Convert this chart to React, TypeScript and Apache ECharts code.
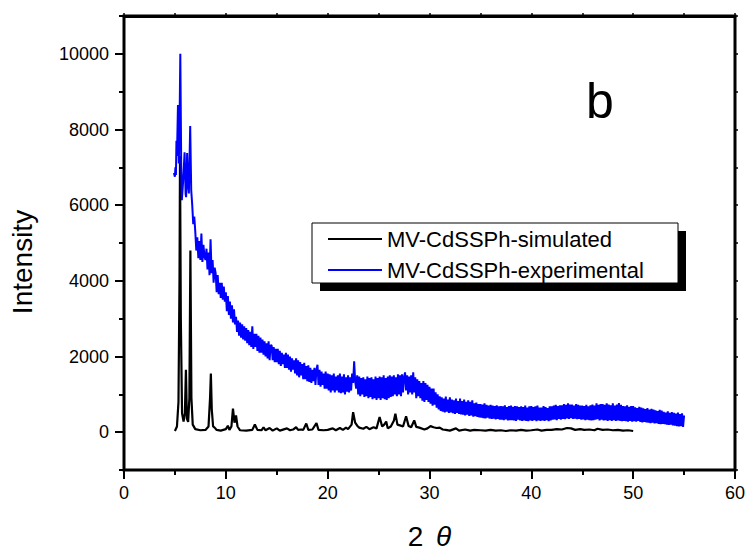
import React, { useEffect, useRef } from "react";
import * as echarts from "echarts";

// ---------- data ----------
const simName = "MV-CdSSPh-simulated";
const expName = "MV-CdSSPh-experimental";

const xTicks = [0, 10, 20, 30, 40, 50, 60];
const yMajorTicks = [0, 2000, 4000, 6000, 8000, 10000];

// simulated pattern, [2θ, intensity]
const simulated: [number, number][] = [
  [5.0, 30], [5.2, 150], [5.35, 800], [5.45, 4000], [5.5, 7300], [5.58, 3000], [5.7, 500],
  [5.85, 280], [5.98, 500], [6.08, 1650], [6.18, 350], [6.3, 270], [6.42, 900], [6.52, 4800],
  [6.62, 900], [6.75, 200], [7.0, 80], [7.5, 50], [8.0, 60], [8.3, 150], [8.45, 900],
  [8.53, 1550], [8.62, 600], [8.75, 150], [8.9, 120], [9.1, 60], [9.5, 40], [10.0, 80],
  [10.2, 170], [10.35, 60], [10.55, 150], [10.7, 620], [10.85, 250], [11.0, 440], [11.15, 150],
  [11.4, 50], [12.0, 40], [12.6, 60], [12.85, 200], [13.1, 60], [13.5, 50], [13.7, 130],
  [13.9, 50], [14.3, 110], [14.6, 40], [15.0, 100], [15.3, 40], [16.0, 100], [16.3, 50],
  [16.6, 70], [16.9, 130], [17.1, 60], [17.4, 70], [17.6, 60], [17.9, 230], [18.1, 60],
  [18.5, 70], [18.9, 240], [19.1, 60], [19.6, 50], [20.0, 60], [20.5, 100], [20.8, 50],
  [21.2, 110], [21.5, 60], [21.8, 120], [22.0, 80], [22.35, 200], [22.5, 530], [22.7, 250],
  [22.9, 170], [23.1, 120], [23.5, 90], [23.8, 140], [24.1, 80], [24.5, 130], [24.8, 100],
  [25.1, 400], [25.35, 150], [25.55, 200], [25.75, 280], [25.9, 100], [26.2, 150], [26.5, 300],
  [26.65, 490], [26.85, 200], [27.1, 180], [27.4, 150], [27.7, 420], [27.95, 160], [28.2, 130],
  [28.5, 310], [28.7, 140], [29.0, 120], [29.5, 70], [29.8, 100], [30.1, 160], [30.4, 130],
  [30.7, 110], [31.0, 120], [31.3, 70], [31.6, 60], [32.0, 40], [32.6, 100], [32.9, 40],
  [33.5, 70], [34.0, 40], [34.4, 60], [35.0, 50], [35.5, 40], [36.0, 60], [36.5, 40],
  [37.0, 50], [37.5, 30], [38.0, 50], [38.5, 40], [39.0, 60], [39.5, 40], [40.0, 50],
  [40.6, 70], [41.0, 40], [41.5, 60], [42.0, 60], [42.5, 80], [43.0, 70], [43.5, 110],
  [43.9, 100], [44.3, 60], [44.8, 80], [45.2, 60], [45.7, 70], [46.2, 50], [46.5, 90],
  [47.0, 60], [47.5, 70], [48.0, 50], [48.5, 60], [49.0, 40], [49.5, 50], [50.0, 30],
];

// experimental pattern, low-angle part, [2θ, intensity]
const experimentalStart: [number, number][] = [
  [4.9, 6850], [5.0, 6750], [5.05, 7000], [5.1, 6800], [5.15, 7700], [5.2, 7300], [5.3, 8650],
  [5.38, 7100], [5.45, 8000], [5.53, 10000], [5.62, 7000], [5.68, 6130], [5.8, 6600],
  [5.95, 7400], [6.05, 6300], [6.1, 6210], [6.2, 7380], [6.3, 6500], [6.37, 6310], [6.5, 8090],
  [6.6, 6400], [6.7, 6000], [6.8, 5500], [6.9, 5700],
];

// experimental pattern from 7.0° in 0.1° steps (one row per degree)
const expStepStart = 7.0;
const expStep = 0.1;
const experimentalValues: number[] = [
  5300, 4800, 5150, 4600, 5050, 4550, 5250, 4500, 4950, 4650, // 7
  4550, 4850, 4300, 4750, 4150, 5100, 4200, 4550, 3950, 4350, // 8
  4200, 3700, 4150, 3650, 3950, 3550, 3950, 3500, 3850, 3450, // 9
  3700, 3200, 3600, 3100, 3450, 3000, 3350, 2900, 3250, 2850, // 10
  3050, 2650, 2950, 2550, 2900, 2500, 2850, 2450, 2800, 2420, // 11
  2750, 2350, 2700, 2300, 2650, 2250, 2800, 2200, 2600, 2250, // 12
  2600, 2150, 2550, 2100, 2500, 2100, 2450, 2050, 2400, 2000, // 13
  2350, 1950, 2400, 1900, 2300, 2290, 1900, 2250, 1850, 2200, // 14
  1850, 2200, 1800, 2150, 1750, 2100, 1800, 2050, 1700, 2100, // 15
  1700, 2050, 1650, 2000, 1600, 1950, 1650, 1900, 1550, 1950, // 16
  1500, 1900, 1450, 1850, 1500, 1800, 1400, 1830, 1400, 1750, // 17
  1350, 1770, 1330, 1700, 1300, 1650, 1350, 1700, 1250, 1650, // 18
  1780, 1250, 1650, 1200, 1600, 1250, 1550, 1150, 1600, 1150, // 19
  1550, 1100, 1530, 1050, 1500, 1100, 1550, 1050, 1470, 1100, // 20
  1500, 1050, 1550, 1030, 1470, 1050, 1530, 1000, 1450, 1070, // 21
  1500, 1050, 1450, 1100, 1550, 1300, 1870, 1350, 1150, 1500, // 22
  1000, 1470, 950, 1430, 1000, 1450, 930, 1400, 950, 1470, // 23
  900, 1430, 930, 1450, 870, 1400, 900, 1470, 850, 1430, // 24
  900, 1470, 850, 1450, 900, 1500, 870, 1430, 850, 1470, // 25
  900, 1500, 930, 1470, 950, 1500, 1000, 1450, 950, 1530, // 26
  1000, 1500, 950, 1530, 1050, 1450, 1580, 1100, 1500, 1000, // 27
  1470, 1050, 1500, 1000, 1580, 1050, 1450, 900, 1400, 950, // 28
  1350, 900, 1300, 830, 1350, 800, 1300, 850, 1250, 800, // 29
  1200, 750, 1150, 700, 1150, 730, 1050, 650, 1000, 600, // 30
  950, 560, 920, 540, 890, 520, 940, 540, 860, 510, // 31
  920, 520, 860, 500, 840, 480, 890, 510, 820, 480, // 32
  890, 470, 820, 460, 860, 440, 800, 460, 840, 430, // 33
  800, 440, 840, 410, 760, 420, 780, 400, 740, 390, // 34
  740, 380, 730, 370, 760, 360, 720, 380, 700, 360, // 35
  720, 350, 700, 360, 690, 340, 710, 350, 680, 330, // 36
  690, 330, 680, 320, 710, 340, 660, 310, 690, 320, // 37
  700, 320, 670, 310, 690, 300, 680, 330, 660, 310, // 38
  680, 300, 660, 310, 700, 300, 650, 290, 680, 310, // 39
  690, 300, 660, 320, 680, 290, 700, 310, 650, 300, // 40
  650, 310, 690, 300, 660, 320, 640, 290, 680, 310, // 41
  680, 330, 700, 340, 720, 320, 690, 350, 710, 330, // 42
  710, 350, 740, 340, 720, 360, 760, 350, 730, 370, // 43
  730, 350, 700, 360, 740, 340, 720, 350, 700, 330, // 44
  700, 340, 690, 320, 720, 330, 680, 320, 710, 310, // 45
  730, 320, 700, 330, 760, 340, 720, 310, 740, 330, // 46
  740, 310, 720, 320, 760, 300, 730, 320, 710, 300, // 47
  760, 320, 700, 300, 730, 310, 770, 300, 720, 290, // 48
  690, 300, 680, 290, 710, 280, 670, 300, 690, 280, // 49
  690, 290, 660, 280, 640, 300, 670, 270, 650, 260, // 50
  630, 270, 610, 260, 640, 250, 600, 240, 620, 250, // 51
  600, 230, 580, 240, 560, 220, 590, 210, 570, 220, // 52
  540, 210, 520, 200, 550, 190, 510, 200, 530, 180, // 53
  510, 170, 490, 160, 520, 150, 480, 160, 500, 140, // 54
  440, // 55.0
];

const FONT = "'Liberation Sans', Arial, Helvetica, sans-serif";

export default function App() {
  const ref = useRef<HTMLDivElement>(null);

  useEffect(() => {
    if (!ref.current) return;
    const chart = echarts.init(ref.current, undefined, { renderer: "svg" });

    const experimental: [number, number][] = experimentalStart.concat(
      experimentalValues.map((v, i) => [
        Math.round((expStepStart + i * expStep) * 100) / 100,
        v,
      ] as [number, number])
    );

    const mkAxisLine = () => ({ show: true, onZero: false, lineStyle: { color: "#000", width: 2 } });

    chart.setOption({
      animation: false,
      backgroundColor: "#fff",
      grid: {
        left: 124, right: 12, top: 16, bottom: 82, containLabel: false,
        outerBoundsMode: "none",
        show: true, borderColor: "#000", borderWidth: 3, backgroundColor: "transparent",
      },
      legend: {
        data: [simName, expName],
        orient: "vertical",
        left: 328,
        top: 227,
        padding: 0,
        itemWidth: 54,
        itemHeight: 2,
        itemGap: 7,
        itemTextGap: 5,
        icon: "rect",
        z: 20,
        textStyle: { color: "#000", fontSize: 22, fontFamily: FONT, lineHeight: 24 },
      },
      graphic: [
        { type: "rect", z: 10, shape: { x: 320, y: 231, width: 366, height: 60 }, style: { fill: "#000" } },
        { type: "rect", z: 11, shape: { x: 312, y: 223, width: 366, height: 60 }, style: { fill: "#fff", stroke: "#000", lineWidth: 1 } },
        {
          type: "text", z: 12, x: 600, y: 101,
          style: { text: "b", fontSize: 50, fontFamily: FONT, fill: "#000", align: "center", verticalAlign: "middle" },
        },
        {
          type: "text", z: 12, x: 22, y: 262, rotation: Math.PI / 2,
          style: { text: "Intensity", fontSize: 28, fontFamily: FONT, fill: "#000", align: "center", verticalAlign: "middle" },
        },
      ],
      xAxis: [
        {
          type: "value",
          position: "bottom",
          min: xTicks[0],
          max: xTicks[xTicks.length - 1],
          interval: 10,
          axisLine: mkAxisLine(),
          axisTick: { show: true, inside: false, length: 9, lineStyle: { color: "#000", width: 2 } },
          minorTick: { show: true, splitNumber: 2, length: 5, lineStyle: { color: "#000", width: 2 } },
          axisLabel: { color: "#000", fontSize: 18, fontFamily: FONT, margin: 14, formatter: (v: number) => String(v) },
          splitLine: { show: false },
          name: "{n|2} {t|θ}",
          nameLocation: "middle",
          nameGap: 52,
          nameTextStyle: {
            color: "#000",
            fontSize: 28,
            fontFamily: FONT,
            rich: {
              n: { fontSize: 28, fontFamily: FONT, color: "#000" },
              t: { fontSize: 28, fontFamily: FONT, fontStyle: "italic", color: "#000", padding: [0, 0, 0, 5] },
            },
          },
        },
        {
          type: "value",
          position: "top",
          min: 0,
          max: 60,
          interval: 5,
          axisLine: { show: true, onZero: false, lineStyle: { color: "#000", width: 3 } },
          axisTick: { show: true, inside: false, length: 3, lineStyle: { color: "#000", width: 1.5 } },
          axisLabel: { show: false },
          splitLine: { show: false },
        },
      ],
      yAxis: [
        {
          type: "value",
          position: "left",
          offset: 0,
          min: -1000,
          max: 11000,
          interval: 1000,
          axisLine: mkAxisLine(),
          axisTick: { show: true, inside: false, length: 9, customValues: yMajorTicks, lineStyle: { color: "#000", width: 2 } },
          axisLabel: { color: "#000", fontSize: 18, fontFamily: FONT, margin: 15, customValues: yMajorTicks, formatter: (v: number) => String(v) },
          splitLine: { show: false },
        },
        {
          type: "value",
          position: "left",
          offset: 0,
          min: -1000,
          max: 11000,
          interval: 1000,
          axisLine: { show: false, onZero: false },
          axisTick: { show: true, inside: false, length: 5, lineStyle: { color: "#000", width: 2 } },
          axisLabel: { show: false },
          splitLine: { show: false },
        },
        {
          type: "value",
          position: "right",
          offset: 0,
          min: -1000,
          max: 11000,
          interval: 1000,
          axisLine: mkAxisLine(),
          axisTick: { show: true, inside: false, length: 3, lineStyle: { color: "#000", width: 1.5 } },
          axisLabel: { show: false },
          splitLine: { show: false },
        },
      ],
      series: [
        {
          name: simName,
          type: "line",
          xAxisIndex: 0,
          yAxisIndex: 0,
          data: simulated,
          showSymbol: false,
          symbol: "none",
          color: "#000",
          lineStyle: { color: "#000", width: 2.2 },
          z: 2,
        },
        {
          name: expName,
          type: "line",
          xAxisIndex: 1,
          yAxisIndex: 0,
          data: experimental,
          showSymbol: false,
          symbol: "none",
          color: "#0000ff",
          lineStyle: { color: "#0000ff", width: 2 },
          z: 3,
        },
      ],
    });

    return () => chart.dispose();
  }, []);

  return (
    <div
      ref={ref}
      style={{ position: "fixed", left: 0, top: 0, width: 747, height: 552, background: "#fff" }}
    />
  );
}
